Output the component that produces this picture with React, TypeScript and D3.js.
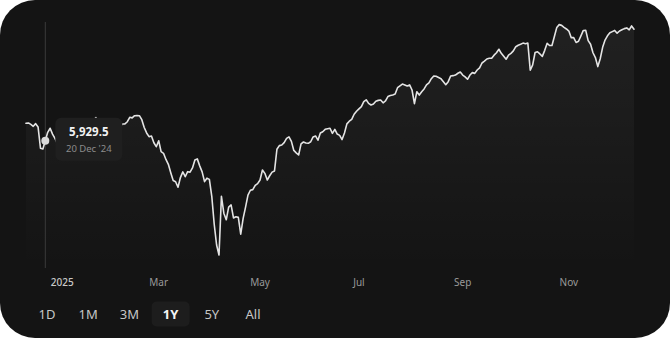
import React from "react";
import * as d3 from "d3";

// Daily closes (one per trading session)
const closes: number[] = [
  6075, 6078, 6066, 6050, 6072, 6045, 5868, 5862, 5930, 6000,
  6034, 5985, 5950, 5906, 5882, 5869, 5942, 5975, 5909, 5918,
  5827, 5836, 5842, 5950, 5937, 5997, 6049, 6086, 6100, 6122,
  6012, 6068, 6039, 6071, 6040, 5994, 6037, 6061, 6083, 6050,
  6069, 6070, 6088, 6125, 6120, 6138, 6140, 6138, 6105, 6040,
  5995, 5964, 5970, 5914, 5881, 5930, 5840, 5826, 5775, 5735,
  5665, 5600, 5590, 5545, 5625, 5672, 5632, 5674, 5670, 5705,
  5770, 5780, 5722, 5672, 5591, 5620, 5610, 5470, 5240, 5066,
  4983, 5470, 5330, 5275, 5380, 5398, 5290, 5300, 5295, 5155,
  5287, 5380, 5480, 5520, 5525, 5560, 5575, 5605, 5688, 5660,
  5605, 5640, 5670, 5680, 5860, 5890, 5895, 5915, 5950, 5962,
  5925, 5850, 5830, 5812, 5905, 5920, 5912, 5909, 5922, 5962,
  5970, 5935, 5995, 6005, 6025, 6030, 6034, 5992, 6025, 5986,
  5975, 5940, 5995, 6070, 6092, 6108, 6150, 6175, 6195, 6213,
  6255, 6270, 6240, 6227, 6235, 6258, 6265, 6268, 6245, 6260,
  6297, 6305, 6310, 6318, 6370, 6385, 6400, 6393, 6384, 6393,
  6351, 6238, 6337, 6309, 6337, 6360, 6393, 6410, 6445, 6467,
  6465, 6455, 6445, 6420, 6395, 6420, 6467, 6470, 6475, 6490,
  6500, 6475, 6460, 6440, 6475, 6495, 6489, 6517, 6535, 6575,
  6590, 6608, 6614, 6614, 6640, 6660, 6689, 6655, 6630, 6606,
  6641, 6655, 6675, 6710, 6722, 6730, 6740, 6735, 6740, 6515,
  6560, 6662, 6668, 6650, 6630, 6680, 6738, 6720, 6720, 6795,
  6870, 6893, 6887, 6870, 6857, 6840, 6785, 6785, 6745, 6755,
  6800, 6845, 6846, 6760, 6730, 6660, 6620, 6545, 6610, 6705,
  6765, 6800, 6825, 6835, 6845, 6822, 6840, 6850, 6860, 6866,
  6850, 6882, 6855,
];

const tickSessions: number[] = [15, 55, 97, 138, 181, 225];
const tickLabels: string[] = ["2025", "Mar", "May", "Jul", "Sep", "Nov"];

const ranges: string[] = ["1D", "1M", "3M", "1Y", "5Y", "All"];
const activeRange = "1Y";

const hoverSession = 8;
const hoverValue = 5929.5;
const hoverLabel = "20 Dec '24";

const W = 670;
const H = 338;
const FONT = "'Noto Sans', 'Open Sans', sans-serif";

export default function App() {
  const x = d3.scaleLinear().domain([0, closes.length - 1]).range([26, 634]);
  const y = d3.scaleLinear().domain([4983, 6890]).range([255, 25]);
  const plotBottom = 268;

  const line = d3
    .line<number>()
    .x((_, i) => x(i))
    .y((d) => y(d));
  const area = d3
    .area<number>()
    .x((_, i) => x(i))
    .y0(plotBottom)
    .y1((d) => y(d));

  const hx = x(hoverSession);
  const hy = y(hoverValue);
  const fmt = d3.format(",.1f");

  return (
    <svg
      width={W}
      height={H}
      style={{ position: "absolute", left: 0, top: 0, display: "block" }}
      fontFamily={FONT}
    >
      <defs>
        <linearGradient id="areaGrad" x1="0" y1="0" x2="0" y2="1">
          <stop offset="0%" stopColor="#ffffff" stopOpacity={0.055} />
          <stop offset="100%" stopColor="#ffffff" stopOpacity={0.0} />
        </linearGradient>
      </defs>
      <rect x={0} y={0} width={W} height={H} fill="#ffffff" />
      <rect x={0} y={0} width={W} height={H} rx={35} ry={35} fill="#141414" />

      <path d={area(closes) || ""} fill="url(#areaGrad)" />

      <line x1={hx} x2={hx} y1={22} y2={plotBottom} stroke="#3a3a3a" strokeWidth={1} />

      <path
        d={line(closes) || ""}
        fill="none"
        stroke="#e4e4e4"
        strokeWidth={1.6}
        strokeLinejoin="round"
        strokeLinecap="round"
      />

      <circle cx={hx} cy={hy} r={4} fill="#dadada" />

      <g transform={`translate(${hx + 10},${hy - 23})`}>
        <rect x={0} y={0} width={67} height={43} rx={6} fill="#1f1f1f" />
        <text x={33.5} y={18} textAnchor="middle" fill="#f2f2f2" fontSize={11.5} fontWeight={700}>
          {fmt(hoverValue)}
        </text>
        <text x={33.5} y={34} textAnchor="middle" fill="#8c8c8c" fontSize={9.5}>
          {hoverLabel}
        </text>
      </g>

      {tickSessions.map((s, i) => (
        <text
          key={tickLabels[i]}
          x={x(s)}
          y={285.5}
          textAnchor="middle"
          fontSize={10}
          fill={i === 0 ? "#c8c8c8" : "#9a9a9a"}
          fontWeight={i === 0 ? 500 : 400}
        >
          {tickLabels[i]}
        </text>
      ))}

      {ranges.map((r, i) => {
        const cx = 47 + i * 41.2;
        const active = r === activeRange;
        return (
          <g key={r}>
            {active && (
              <rect x={cx - 19} y={301.5} width={38} height={25} rx={5} fill="#1d1d1d" />
            )}
            <text
              x={cx}
              y={318.5}
              textAnchor="middle"
              fontSize={13}
              fontWeight={active ? 700 : 400}
              fill={active ? "#f4f4f4" : "#c6c6c6"}
            >
              {r}
            </text>
          </g>
        );
      })}
    </svg>
  );
}
